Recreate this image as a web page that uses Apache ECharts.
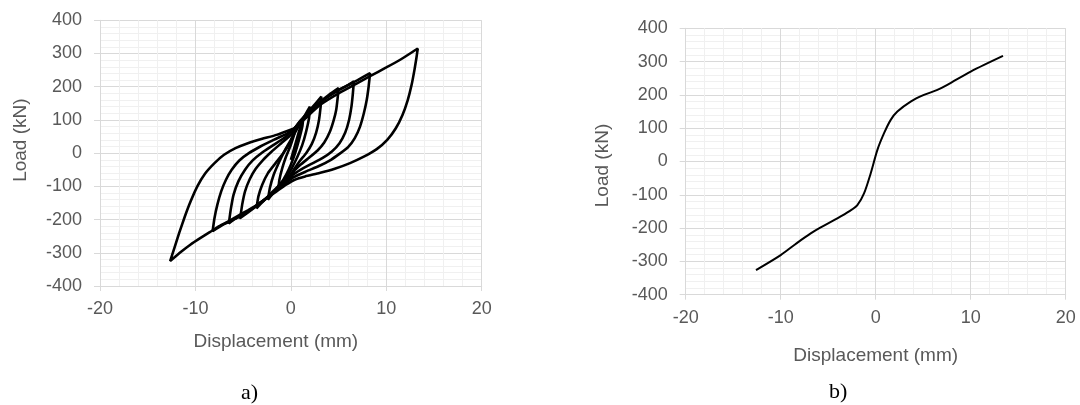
<!DOCTYPE html>
<html><head><meta charset="utf-8">
<script src="https://cdn.jsdelivr.net/npm/echarts@6/dist/echarts.min.js"></script>
<style>html,body{margin:0;padding:0;background:#fff}#c{width:1080px;height:405px}</style>
</head><body><div id="c"></div><script>
// ---------- data (Displacement mm, Load kN) ----------
const xAxisTitle = 'Displacement (mm)';
const yAxisTitle = 'Load (kN)';
const panelLabels = ['a)', 'b)'];

// hysteresis loops, panel a)
const loopSmall = [[0,-20],[0.4,20],[0.8,60],[1.3,105],[1.2,80],[0.9,45],[0.5,5],[0,-35],[-0.5,-65],[-1.3,-105],[-1.2,-80],[-0.9,-45],[-0.5,-10],[0,25],[0.4,60]];
const loopA = [[0.2,50],[0.8,80],[1.4,110],[2.0,140],[1.9,105],[1.6,65],[1.2,25],[0.7,-10],[0.1,-45],[-0.4,-70],[-1.2,-95],[-1.8,-118],[-2.4,-140],[-2.2,-105],[-1.8,-65],[-1.2,-25],[-0.6,10],[0,40],[0.2,50]];
const loopB = [[0.4,75],[1,98],[2,130],[3.2,170],[3.12,140],[2.95,100],[2.65,62],[2.2,28],[1.6,0],[0.9,-25],[0.3,-50],[-0.2,-72],[-1,-92],[-2,-118],[-2.8,-142],[-3.6,-166],[-3.4,-130],[-3.0,-95],[-2.4,-60],[-1.6,-30],[-0.8,0],[-0.1,30],[0.3,60],[0.4,75]];
const loopC = [[0.4,75],[1,96],[2,126],[3,153],[4,176],[5,196],[4.9,165],[4.75,130],[4.5,100],[4.1,65],[3.5,32],[2.8,8],[1.9,-14],[1.0,-35],[0.3,-55],[0,-75],[-1,-98],[-2,-123],[-3,-146],[-4,-168],[-5.3,-195],[-5.1,-155],[-4.8,-115],[-4.3,-78],[-3.7,-48],[-2.9,-20],[-2.0,5],[-1.0,30],[0,55],[0.4,75]];
const loopD = [[0.4,75],[1,95],[2,124],[3,150],[4,172],[5,190],[6,205],[6.6,216],[6.5,180],[6.35,140],[6.1,100],[5.7,62],[5.1,30],[4.3,5],[3.3,-15],[2.1,-33],[1.0,-50],[0.2,-65],[0,-75],[-1,-98],[-2,-122],[-3,-145],[-4,-166],[-5,-184],[-6,-200],[-6.5,-212],[-6.3,-170],[-6.0,-125],[-5.5,-85],[-4.8,-50],[-4.0,-22],[-3.0,2],[-1.8,25],[-0.6,48],[0.4,75]];
const loopE = [[0.4,75],[1,95],[2,125],[3,152],[4,172],[5,190],[6,205],[7,220],[8.3,241],[8.15,200],[7.95,160],[7.65,120],[7.25,80],[6.7,45],[6.0,18],[5.2,0],[4.2,-20],[3.0,-38],[1.6,-55],[0.3,-72],[-1,-98],[-2,-122],[-3,-145],[-4,-166],[-5,-184],[-6,-200],[-7,-214],[-8.2,-235],[-8.0,-195],[-7.7,-155],[-7.3,-115],[-6.8,-80],[-6.2,-50],[-5.4,-22],[-4.4,0],[-3.2,20],[-1.8,40],[-0.5,57],[0.4,75]];
const loopF = [[0.4,75],[1,90],[2,118],[3.2,148],[5,180],[6.6,205],[8.3,232],[10,258],[11.5,282],[13.3,315],[13.15,285],[12.95,250],[12.65,205],[12.25,160],[11.7,115],[11.0,75],[10.1,40],[9.0,12],[7.7,-10],[6.2,-30],[4.6,-47],[3,-60],[1.5,-70],[0.4,-80],[-0.5,-95],[-1.5,-115],[-2.5,-135],[-3.5,-155],[-4.5,-172],[-5.5,-188],[-6.5,-205],[-7.5,-220],[-8.5,-238],[-9.5,-256],[-10.5,-275],[-11.5,-297],[-12.65,-325],[-12.2,-285],[-11.7,-240],[-11.1,-190],[-10.5,-145],[-9.8,-100],[-9.0,-62],[-8.0,-30],[-7.0,-5],[-5.8,15],[-4.5,30],[-3.0,43],[-1.5,55],[0.4,75]];

// backbone curve, panel b)
const backbone = [[-12.6,-326],[-10.0,-281],[-8.3,-245],[-6.84,-216],[-5.79,-198],[-4.04,-171],[-2.8,-150],[-1.93,-131],[-1.23,-96],[-0.53,-36],[0.18,35],[0.88,85],[1.58,125],[2.28,150],[3.68,180],[5.08,200],[6.49,215],[7.54,230],[10.0,270],[13.4,317]];

// axis ranges / ticks
const xMin = -20, xMax = 20, xStep = 10;
const yMin = -400, yMax = 400, yStep = 100;

// ---------- chart ----------
const TXT = '#595959';
const FONT = '"Liberation Sans", Arial, sans-serif';
const grids = [
  {left: 100, top: 20.3, width: 381.7, height: 265.7},
  {left: 685.7, top: 28.3, width: 380, height: 266.4}
];
function xa(i, namePad, gap) {
  return {
    gridIndex: i, type: 'value', min: xMin, max: xMax, interval: xStep,
    name: xAxisTitle, nameLocation: 'middle', nameGap: gap,
    nameTextStyle: {color: TXT, fontSize: 19, fontFamily: FONT, padding: namePad},
    axisLine: {show: true, onZero: false, lineStyle: {color: '#d9d9d9', width: 1}},
    axisTick: {show: true, length: 5, lineStyle: {color: '#d9d9d9'}},
    axisLabel: {color: TXT, fontSize: 18, fontFamily: FONT, margin: 14},
    splitLine: {show: true, lineStyle: {color: '#d9d9d9', width: 1}},
    minorTick: {show: false, splitNumber: 5},
    minorSplitLine: {show: true, lineStyle: {color: '#f0f0f0', width: 1}}
  };
}
function ya(i, namePad, gap) {
  return {
    gridIndex: i, type: 'value', min: yMin, max: yMax, interval: yStep,
    name: yAxisTitle, nameLocation: 'middle', nameGap: gap, nameRotate: 90,
    nameTextStyle: {color: TXT, fontSize: 19, fontFamily: FONT, padding: namePad},
    axisLine: {show: true, onZero: false, lineStyle: {color: '#d9d9d9', width: 1}},
    axisTick: {show: true, length: 6, lineStyle: {color: '#d9d9d9'}},
    axisLabel: {color: TXT, fontSize: 18, fontFamily: FONT, margin: 18},
    splitLine: {show: true, lineStyle: {color: '#d9d9d9', width: 1}},
    minorTick: {show: false, splitNumber: 5},
    minorSplitLine: {show: true, lineStyle: {color: '#f0f0f0', width: 1}}
  };
}
const loops = [loopSmall, loopA, loopB, loopC, loopD, loopE, loopF];
const series = loops.map(d => ({
  type: 'line', xAxisIndex: 0, yAxisIndex: 0, data: d, showSymbol: false, symbol: 'none',
  smooth: 0.15, lineStyle: {color: '#000', width: 2.6}, animation: false, silent: true
}));
series.push({
  type: 'line', xAxisIndex: 1, yAxisIndex: 1, data: backbone, showSymbol: false, symbol: 'none',
  smooth: 0.3, lineStyle: {color: '#000', width: 2}, animation: false, silent: true
});

const chart = echarts.init(document.getElementById('c'), null, {renderer: 'canvas'});
chart.setOption({
  backgroundColor: '#fff',
  animation: false,
  grid: grids,
  xAxis: [xa(0, [0, 30, 0, 0], 46), xa(1, [0, 0, 0, 0], 52)],
  yAxis: [ya(0, [0, 0, 0, 26], 70), ya(1, [0, 8, 0, 0], 73)],
  series: series,
  graphic: [
    {type: 'text', left: 241, top: 382, style: {text: panelLabels[0], font: '22px "Liberation Serif", "Times New Roman", serif', fill: '#000'}},
    {type: 'text', left: 829, top: 381, style: {text: panelLabels[1], font: '22px "Liberation Serif", "Times New Roman", serif', fill: '#000'}}
  ]
});
</script></body></html>
